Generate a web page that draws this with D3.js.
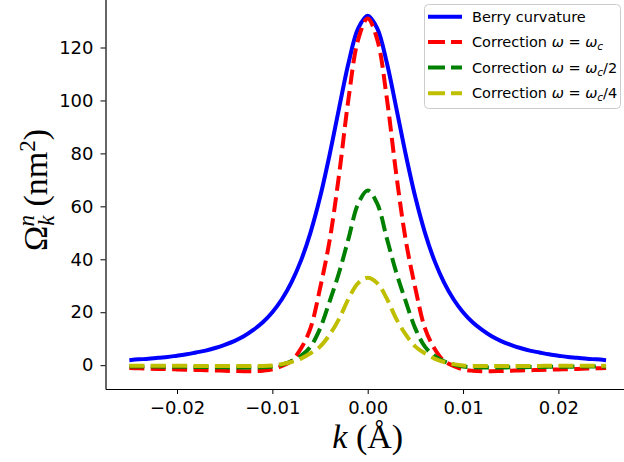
<!DOCTYPE html>
<html>
<head>
<meta charset="utf-8">
<script src="https://cdn.jsdelivr.net/npm/d3@7"></script>
<style>
  body { margin: 0; background: #fff; }
  svg { display: block; }
</style>
</head>
<body>
<script>
// k grid (1/Angstrom)
const kValues = [
  -0.025, -0.024, -0.023, -0.022, -0.021, -0.020, -0.019, -0.018, -0.017, -0.016,
  -0.015, -0.014, -0.013, -0.012, -0.011, -0.010, -0.009, -0.008, -0.007, -0.006,
  -0.005, -0.004, -0.003, -0.002, -0.001, 0.000, 0.001, 0.002, 0.003, 0.004,
  0.005, 0.006, 0.007, 0.008, 0.009, 0.010, 0.011, 0.012, 0.013, 0.014,
  0.015, 0.016, 0.017, 0.018, 0.019, 0.020, 0.021, 0.022, 0.023, 0.024, 0.025
];

const berry = [
  1.9, 2.2, 2.4, 2.8, 3.1, 3.6, 4.1, 4.8, 5.5, 6.5,
  7.7, 9.1, 10.9, 13.3, 16.2, 20.0, 24.9, 31.3, 39.5, 50.1,
  63.4, 79.4, 97.1, 114.3, 127.2, 132, 127.2, 114.3, 97.1, 79.4,
  63.4, 50.1, 39.5, 31.3, 24.9, 20.0, 16.2, 13.3, 10.9, 9.1,
  7.7, 6.5, 5.5, 4.8, 4.1, 3.6, 3.1, 2.8, 2.4, 2.2, 1.9
];

const corrFull = [
  -1.1, -1.2, -1.3, -1.4, -1.5, -1.6, -1.7, -1.8, -1.9, -2.0,
  -2.1, -2.2, -2.3, -2.3, -2.1, -1.6, -0.3, 1.6, 6.3, 14,
  29, 47, 72, 101, 123, 131, 123, 101, 72, 47,
  29, 14, 6.3, 1.6, -0.3, -1.6, -2.1, -2.3, -2.3, -2.2,
  -2.1, -2.0, -1.9, -1.8, -1.7, -1.6, -1.5, -1.4, -1.3, -1.2, -1.1
];

const corrHalf = [
  -0.5, -0.5, -0.5, -0.5, -0.6, -0.6, -0.6, -0.7, -0.7, -0.8,
  -0.8, -0.9, -0.9, -0.9, -0.8, -0.5, 0.2, 1.5, 3.5, 7,
  13.8, 24, 35, 48, 61, 66, 61, 48, 35, 24,
  13.8, 7, 3.5, 1.5, 0.2, -0.5, -0.8, -0.9, -0.9, -0.9,
  -0.8, -0.8, -0.7, -0.7, -0.6, -0.6, -0.6, -0.5, -0.5, -0.5, -0.5
];

const corrQuarter = [
  -0.2, -0.2, -0.2, -0.2, -0.2, -0.2, -0.2, -0.3, -0.3, -0.3,
  -0.3, -0.3, -0.3, -0.3, -0.3, -0.1, 0.4, 1.2, 2.5, 4.5,
  7, 11.5, 17.5, 25.2, 31, 33, 31, 25.2, 17.5, 11.5,
  7, 4.5, 2.5, 1.2, 0.4, -0.1, -0.3, -0.3, -0.3, -0.3,
  -0.3, -0.3, -0.3, -0.3, -0.2, -0.2, -0.2, -0.2, -0.2, -0.2, -0.2
];

const xTicks = [-0.02, -0.01, 0.00, 0.01, 0.02];
const yTicks = [0, 20, 40, 60, 80, 100, 120];

const width = 624;
const height = 462;

const svg = d3.select("body")
  .append("svg")
  .attr("width", width)
  .attr("height", height);

svg.append("rect")
  .attr("width", width)
  .attr("height", height)
  .attr("fill", "#fff");

// axes box runs past the top and right edges of the picture
const x = d3.scaleLinear()
  .domain([-0.0275, 0.0275])
  .range([105.5, 629.9]);
const y = d3.scaleLinear()
  .domain([-9.0, 138.7])
  .range([389, -2]);

//series
const series = [
  { name: "berry", values: berry, color: "#0000ff", dash: null },
  { name: "full", values: corrFull, color: "#ff0000", dash: "15,6.4" },
  { name: "half", values: corrHalf, color: "#008000", dash: "15,6.4" },
  { name: "quarter", values: corrQuarter, color: "#bfbf00", dash: "15,6.4" }
];

const line = d3.line()
  .x(d => x(d[0]))
  .y(d => y(d[1]))
  .curve(d3.curveCatmullRom);

svg.selectAll(".curve")
  .data(series)
  .enter().append("path")
    .attr("class", "curve")
    .attr("d", s => line(kValues.map((k, i) => [k, s.values[i]])))
    .attr("fill", "none")
    .attr("stroke", s => s.color)
    .attr("stroke-width", 4)
    .attr("stroke-dasharray", s => s.dash);

//x-axis
const gx = svg.append("g")
  .attr("transform", "translate(0,389)")
  .call(d3.axisBottom(x)
    .tickValues(xTicks)
    .tickFormat(d3.format(".2f"))
    .tickSize(5)
    .tickSizeOuter(0)
    .tickPadding(7));

//y-axis
const gy = svg.append("g")
  .attr("transform", "translate(105.5,0)")
  .call(d3.axisLeft(y)
    .tickValues(yTicks)
    .tickSize(5)
    .tickSizeOuter(0)
    .tickPadding(7));

[gx, gy].forEach(g => {
  g.select(".domain").attr("stroke", "#000").attr("stroke-width", 1.2);
  g.selectAll(".tick line").attr("stroke", "#000").attr("stroke-width", 1);
  g.selectAll(".tick text")
    .attr("fill", "#000")
    .attr("font-family", "DejaVu Sans")
    .attr("font-size", 18);
});

// axis labels
const xLabel = svg.append("text")
  .attr("x", 367.7)
  .attr("y", 448)
  .attr("text-anchor", "middle")
  .attr("font-family", "Liberation Serif")
  .attr("font-size", 34);
xLabel.append("tspan").attr("font-style", "italic").text("k");
xLabel.append("tspan").text(" (Å)");

const yLabel = svg.append("text")
  .attr("transform", "translate(47,251) rotate(-90)")
  .attr("font-family", "Liberation Serif")
  .attr("font-size", 34);
yLabel.append("tspan").text("Ω");
yLabel.append("tspan").attr("font-style", "italic").attr("font-size", 23)
  .attr("dy", 7).text("k");
yLabel.append("tspan").attr("font-style", "italic").attr("font-size", 23)
  .attr("dx", -11).attr("dy", -20).text("n");
yLabel.append("tspan").attr("dy", 13).text(" (nm");
yLabel.append("tspan").attr("font-size", 23).attr("dy", -12).text("2");
yLabel.append("tspan").attr("dy", 12).text(")");

// legend
const legend = svg.append("g");
legend.append("rect")
  .attr("x", 424.5)
  .attr("y", 4.5)
  .attr("width", 196)
  .attr("height", 104)
  .attr("rx", 4)
  .attr("fill", "#fff")
  .attr("fill-opacity", 0.8)
  .attr("stroke", "#cccccc");

const labels = [
  [{ t: "Correction " }],
  [{ t: "Correction " }, { t: "ω", i: true }, { t: " = " }, { t: "ω", i: true }, { t: "c", i: true, sub: true }],
  [{ t: "Correction " }, { t: "ω", i: true }, { t: " = " }, { t: "ω", i: true }, { t: "c", i: true, sub: true }, { t: "/2", up: true }],
  [{ t: "Correction " }, { t: "ω", i: true }, { t: " = " }, { t: "ω", i: true }, { t: "c", i: true, sub: true }, { t: "/4", up: true }]
];
labels[0] = [{ t: "Berry curvature" }];

const rowY = [16.7, 41.9, 67.6, 93.3];

series.forEach((s, i) => {
  legend.append("line")
    .attr("x1", 428).attr("x2", 462)
    .attr("y1", rowY[i]).attr("y2", rowY[i])
    .attr("stroke", s.color)
    .attr("stroke-width", 4)
    .attr("stroke-dasharray", s.dash ? "17,6" : null);
  const t = legend.append("text")
    .attr("x", 472)
    .attr("y", rowY[i] + 5)
    .attr("font-family", "DejaVu Sans")
    .attr("font-size", 14.5)
    .attr("fill", "#000");
  labels[i].forEach(p => {
    const sp = t.append("tspan").text(p.t);
    if (p.i) sp.attr("font-style", "italic");
    if (p.sub) sp.attr("font-size", 10.5).attr("dy", 3);
    if (p.up) sp.attr("dy", -3);
  });
});
</script>
</body>
</html>
